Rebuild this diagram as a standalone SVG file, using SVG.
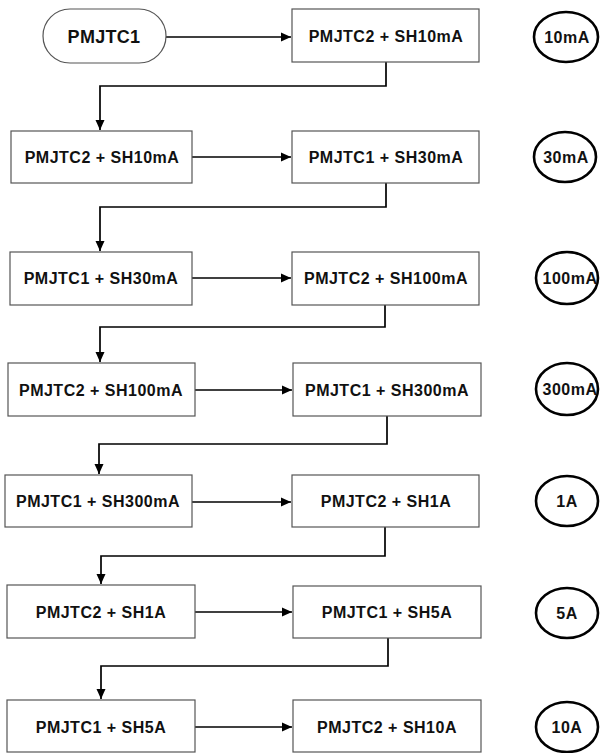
<svg xmlns="http://www.w3.org/2000/svg" width="601" height="753" viewBox="0 0 601 753">
<defs>
<style>
.box{fill:#fff;stroke:#555;stroke-width:1.2}
.term{fill:#fff;stroke:#555;stroke-width:1.2}
.ell{fill:#fff;stroke:#000;stroke-width:2.6}
.t{font-family:"Liberation Sans",Arial,sans-serif;font-weight:bold;font-size:16px;letter-spacing:0.5px;fill:#111;text-anchor:middle;dominant-baseline:central}
.tt{font-size:18px;letter-spacing:0.3px}
.c{fill:none;stroke:#000;stroke-width:1.7}
</style>
<marker id="ah" markerWidth="11" markerHeight="10" refX="10" refY="5" orient="auto" markerUnits="userSpaceOnUse">
<path d="M0,0.5 L10,5 L0,9.5 Z" fill="#000"/>
</marker>
</defs>
<rect width="601" height="753" fill="#fff"/>
<g id="connectors">
<path class="c" d="M166,37 H291" marker-end="url(#ah)"/>
<path class="c" d="M386,62 V86 H100 V130" marker-end="url(#ah)"/>
<path class="c" d="M192,157 H291" marker-end="url(#ah)"/>
<path class="c" d="M386,183 V207 H100 V251" marker-end="url(#ah)"/>
<path class="c" d="M192,278 H291" marker-end="url(#ah)"/>
<path class="c" d="M385,305 V327 H100 V362" marker-end="url(#ah)"/>
<path class="c" d="M195,390 H292" marker-end="url(#ah)"/>
<path class="c" d="M387,416 V444 H99 V474" marker-end="url(#ah)"/>
<path class="c" d="M192,502 H291" marker-end="url(#ah)"/>
<path class="c" d="M385,527 V556 H101 V584" marker-end="url(#ah)"/>
<path class="c" d="M195,612 H292" marker-end="url(#ah)"/>
<path class="c" d="M388,638 V666 H101 V699" marker-end="url(#ah)"/>
<path class="c" d="M195,727 H292" marker-end="url(#ah)"/>
</g>
<g id="n_start"><rect class="term" x="43" y="9" width="123" height="54" rx="27" ry="27"/><text class="t tt" x="104" y="37">PMJTC1</text></g>
<g id="n1"><rect class="box" x="292" y="9" width="187" height="53"/><text class="t" x="386" y="36">PMJTC2 + SH10mA</text></g>
<g id="e1"><ellipse class="ell" cx="566" cy="37" rx="32" ry="25"/><text class="t" x="567" y="37">10mA</text></g>

<g id="n2"><rect class="box" x="11" y="131" width="181" height="52"/><text class="t" x="102" y="157">PMJTC2 + SH10mA</text></g>
<g id="n3"><rect class="box" x="292" y="131" width="187" height="52"/><text class="t" x="386" y="157">PMJTC1 + SH30mA</text></g>
<g id="e2"><ellipse class="ell" cx="565" cy="157" rx="31" ry="25"/><text class="t" x="566" y="157">30mA</text></g>

<g id="n4"><rect class="box" x="10" y="252" width="182" height="53"/><text class="t" x="101" y="278">PMJTC1 + SH30mA</text></g>
<g id="n5"><rect class="box" x="292" y="252" width="187" height="53"/><text class="t" x="386" y="278">PMJTC2 + SH100mA</text></g>
<g id="e3"><ellipse class="ell" cx="567" cy="278" rx="31" ry="26"/><text class="t" x="570" y="278">100mA</text></g>

<g id="n6"><rect class="box" x="8" y="363" width="187" height="53"/><text class="t" x="101" y="390">PMJTC2 + SH100mA</text></g>
<g id="n7"><rect class="box" x="293" y="363" width="188" height="53"/><text class="t" x="387" y="390">PMJTC1 + SH300mA</text></g>
<g id="e4"><ellipse class="ell" cx="567" cy="389" rx="31" ry="26"/><text class="t" x="570" y="389">300mA</text></g>

<g id="n8"><rect class="box" x="5" y="475" width="187" height="52"/><text class="t" x="98" y="501">PMJTC1 + SH300mA</text></g>
<g id="n9"><rect class="box" x="292" y="475" width="187" height="52"/><text class="t" x="386" y="501">PMJTC2 + SH1A</text></g>
<g id="e5"><ellipse class="ell" cx="567" cy="501" rx="31" ry="25"/><text class="t" x="567" y="501">1A</text></g>

<g id="n10"><rect class="box" x="7" y="585" width="188" height="53"/><text class="t" x="101" y="612">PMJTC2 + SH1A</text></g>
<g id="n11"><rect class="box" x="293" y="586" width="188" height="52"/><text class="t" x="387" y="612">PMJTC1 + SH5A</text></g>
<g id="e6"><ellipse class="ell" cx="567" cy="613" rx="31" ry="25"/><text class="t" x="567" y="613">5A</text></g>

<g id="n12"><rect class="box" x="7" y="700" width="188" height="52"/><text class="t" x="101" y="727">PMJTC1 + SH5A</text></g>
<g id="n13"><rect class="box" x="293" y="700" width="188" height="52"/><text class="t" x="387" y="727">PMJTC2 + SH10A</text></g>
<g id="e7"><ellipse class="ell" cx="567" cy="727" rx="31" ry="25"/><text class="t" x="567" y="727">10A</text></g>
</svg>
